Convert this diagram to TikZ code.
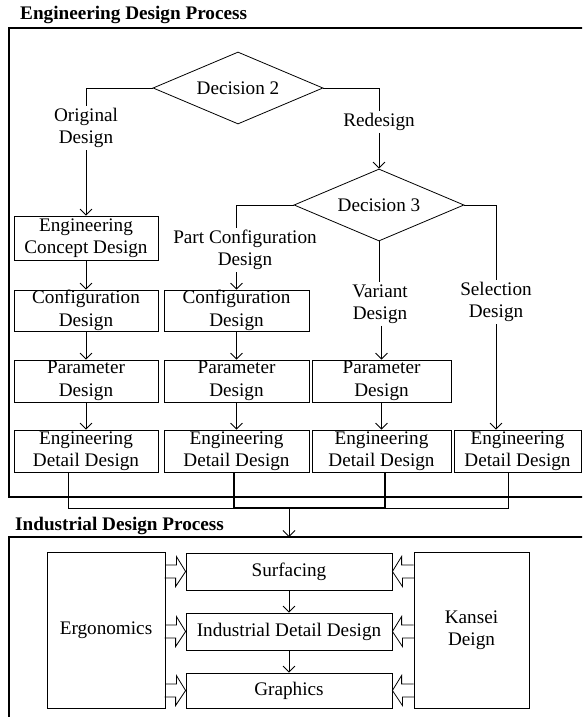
\documentclass[tikz,border=0pt]{standalone}
\usepackage{fontspec}
\setmainfont{Liberation Serif}
\usetikzlibrary{arrows.meta,shapes.geometric}
\begin{document}
\begin{tikzpicture}[x=1pt,y=-1pt,
  every node/.style={font=\fontsize{19.2}{22.5}\selectfont},
  bx/.style={draw, line width=0.8pt, inner sep=0pt, align=center},
  lbl/.style={inner sep=2pt, align=center},
  dec/.style={draw, line width=0.8pt, diamond, aspect=2.36, minimum width=170pt, minimum height=72pt, inner sep=0pt},
  ln/.style={line width=0.8pt},
  thk/.style={line width=1.3pt},
  arr/.style={line width=0.8pt, -{Straight Barb[length=6pt,width=12pt]}},
  frame/.style={line width=1.6pt},
  ttl/.style={font=\bfseries\fontsize{19.2}{22.5}\selectfont, anchor=base west, inner sep=0pt},
  barrow/.style={line width=0.8pt, line join=miter}
]
\useasboundingbox (0,0) rectangle (582,717);
\clip (0,0) rectangle (582,717);
\fill[white] (0,0) rectangle (582,717);

% ---------- Engineering design process ----------
\node[ttl] (t1) at (20,20) {Engineering Design Process};
\draw[frame] (9,28) rectangle (620,497);

\node[dec] (d2) at (238,88) {Decision 2};
\node[lbl] (lorig) at (86,128) {Original\\Design};
\node[lbl] (lred) at (379,122) {Redesign};
\node[dec] (d3) at (379,205) {Decision 3};
\node[lbl] (lpart) at (245,250) {Part Configuration\\Design};
\node[lbl] (lvar) at (380,304) {Variant\\Design};
\node[lbl] (lsel) at (496,302) {Selection\\Design};

\node[bx, minimum width=144pt, minimum height=44pt] (ecd) at (86,238) {Engineering\\Concept Design};
\node[bx, minimum width=144pt, minimum height=41pt] (cfg1) at (86,310.5) {Configuration\\Design};
\node[bx, minimum width=145pt, minimum height=41pt] (cfg2) at (236.5,310.5) {Configuration\\Design};
\node[bx, minimum width=144pt, minimum height=42pt] (par1) at (86,381) {Parameter\\Design};
\node[bx, minimum width=145pt, minimum height=42pt] (par2) at (236.5,381) {Parameter\\Design};
\node[bx, minimum width=139pt, minimum height=42pt] (par3) at (381.5,381) {Parameter\\Design};
\node[bx, minimum width=144pt, minimum height=42pt] (det1) at (86,451) {Engineering\\Detail Design};
\node[bx, minimum width=145pt, minimum height=42pt] (det2) at (236.5,451) {Engineering\\Detail Design};
\node[bx, minimum width=139pt, minimum height=42pt] (det3) at (381.5,451) {Engineering\\Detail Design};
\node[bx, minimum width=127pt, minimum height=42pt] (det4) at (517.5,451) {Engineering\\Detail Design};

\draw[ln] (d2.west) -| (lorig.north);
\draw[arr] (lorig.south) -- (ecd.north);
\draw[ln] (d2.east) -| (lred.north);
\draw[arr] (lred.south) -- (d3.north);
\draw[ln] (d3.west) -| (cfg2.north |- lpart.north);
\draw[arr] (cfg2.north |- lpart.south) -- (cfg2.north);
\draw[ln] (d3.south) -- (d3.south |- lvar.north);
\draw[arr] (par3.north |- lvar.south) -- (par3.north);
\draw[ln] (d3.east) -| (lsel.north);
\draw[arr] (lsel.south) -- (lsel.south |- det4.north);

\draw[arr] (ecd) -- (cfg1);
\draw[arr] (cfg1) -- (par1);
\draw[arr] (par1) -- (det1);
\draw[arr] (cfg2) -- (par2);
\draw[arr] (par2) -- (det2);
\draw[arr] (par3) -- (det3);

\coordinate (bus) at (289,508);
\coordinate (bin) at (289,537);
\draw[ln] ([xshift=-18pt]det1.south) |- (bus);
\draw[thk] ([xshift=-2.5pt]det2.south) |- (bus);
\draw[thk] ([xshift=3.5pt]det3.south) |- (bus);
\draw[ln] ([xshift=-9.5pt]det4.south) |- (bus);
\draw[arr] (bus) -- (bin);

% ---------- Industrial design process ----------
\node[ttl] (t2) at (15,530) {Industrial Design Process};
\draw[frame] (9,537) rectangle (620,760);

\node[bx, minimum width=118pt, minimum height=156pt] (ergo) at (106,630) {Ergonomics};
\node[bx, minimum width=115pt, minimum height=156pt] (kan) at (471.5,630) {Kansei\\Deign};
\node[bx, minimum width=206pt, minimum height=37pt] (surf) at (289,571.5) {Surfacing};
\node[bx, minimum width=206pt, minimum height=37pt] (idd) at (289,631.5) {Industrial Detail Design};
\node[bx, minimum width=206pt, minimum height=35pt] (gra) at (289,690.5) {Graphics};

\draw[arr] (surf) -- (idd);
\draw[arr] (idd) -- (gra);

\foreach \n in {surf,idd,gra}{
  \draw[barrow] (ergo.east |- \n.west) ++(0,-6.5) -- ++(11,0) -- ++(0,-8.5) -- (\n.west) -- ++(-10,15) -- ++(0,-8.5) -- ++(-11,0);
  \draw[barrow] (kan.west |- \n.east) ++(0,-6.5) -- ++(-12,0) -- ++(0,-8.5) -- (\n.east) -- ++(10,15) -- ++(0,-8.5) -- ++(12,0);
}
\end{tikzpicture}
\end{document}
